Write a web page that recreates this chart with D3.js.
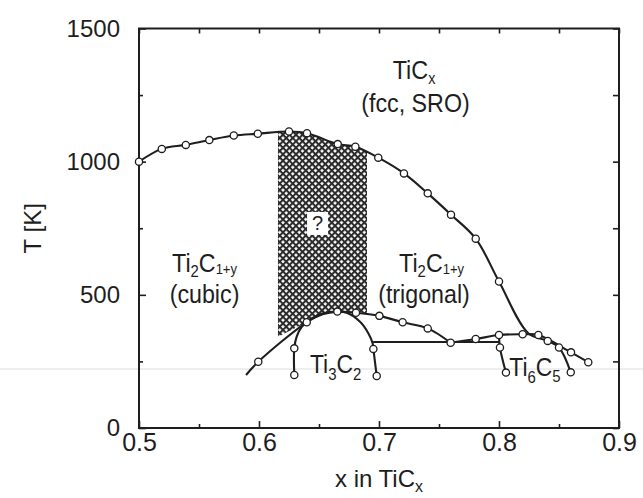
<!DOCTYPE html>
<html><head><meta charset="utf-8">
<script src="https://cdn.jsdelivr.net/npm/d3@7"></script>
<style>
html,body{margin:0;padding:0;background:#fff;}
svg{display:block;}
</style></head>
<body>
<svg id="chart" width="643" height="498"></svg>
<script>
// ---------- data ----------
const xTicks = [0.5, 0.6, 0.7, 0.8, 0.9];
const xMinorTicks = [0.55, 0.65, 0.75, 0.85];
const yTicks = [0, 500, 1000, 1500];
const yMinorTicks = [250, 750, 1250];

// TiCx order-disorder boundary (x, T[K])
const ticxCurve = [[0.5,1000],[0.519,1048],[0.539,1063],[0.5586,1081],[0.579,1098],[0.599,1105],[0.625,1113],[0.640,1107],[0.6656,1066],[0.6803,1056],[0.6994,1015],[0.7208,956],[0.7406,881],[0.760,801],[0.7806,711],[0.800,550],[0.8244,356],[0.8406,327],[0.850,302],[0.8598,209]];
const ticxMarkers = [[0.5,1000],[0.519,1048],[0.539,1063],[0.5586,1081],[0.579,1098],[0.599,1105],[0.625,1113],[0.640,1107],[0.6656,1066],[0.6803,1056],[0.6994,1015],[0.7208,956],[0.7406,881],[0.760,801],[0.7806,711],[0.800,550],[0.8406,327],[0.850,302],[0.8598,209]];

// cubic / trigonal Ti2C boundary
const cubicBoundary = [[0.5892,199],[0.5994,249],[0.6398,397],[0.6536,428],[0.6653,437]];
const cubicMarkers = [[0.5994,249],[0.6398,397]];

// trigonal lower boundary
const trigonalBoundary = [[0.6653,437],[0.6808,433],[0.7003,421],[0.7197,397],[0.7406,374],[0.7597,320]];
const trigonalMarkers = [[0.6653,437],[0.6808,433],[0.7003,421],[0.7197,397],[0.7406,374],[0.7597,320]];

// Ti3C2 dome
const ti3c2Dome = [[0.6294,199],[0.6294,299],[0.6314,343],[0.6356,380],[0.6439,412],[0.6536,431],[0.6653,437],[0.6731,433],[0.6842,399],[0.6911,356],[0.6947,318],[0.6953,297],[0.6981,195]];
const ti3c2Markers = [[0.6294,199],[0.6294,299],[0.6953,297],[0.6981,195]];

// horizontal line between Ti3C2 and Ti6C5
const tieLine = [[0.6951,323],[0.8005,323]];

// Ti6C5 region
const ti6c5Upper = [[0.7597,320],[0.7806,334],[0.800,349],[0.8197,352],[0.8328,349],[0.860,284],[0.8744,247]];
const ti6c5UpperMarkers = [[0.7806,334],[0.800,349],[0.8197,352],[0.8328,349],[0.860,284],[0.8744,247]];
const ti6c5Leg = [[0.800,349],[0.8008,302],[0.8058,208]];
const ti6c5LegMarkers = [[0.8008,302],[0.8058,208]];

// hatched (unknown) region: lower edge
const hatchLower = [[0.6158,343],[0.6398,397],[0.6536,428],[0.6653,440],[0.6808,436],[0.690,430]];
const hatchTopT = 1300;
const questionPos = [0.6488, 768];

// ---------- layout ----------
const W = 643, H = 498;
const mL = 139, mR = 619, mT = 28.5, mB = 428;
const x = d3.scaleLinear().domain([0.5, 0.9]).range([mL, mR]);
const y = d3.scaleLinear().domain([0, 1500]).range([mB, mT]);
const ink = "#1e1e1e";
const FONT = "'Liberation Sans', Arial, Helvetica, sans-serif";

const svg = d3.select("#chart");
svg.append("rect").attr("width", W).attr("height", H).attr("fill", "#fff");

// faint scan line
svg.append("line").attr("x1", 0).attr("x2", W).attr("y1", 369).attr("y2", 369)
  .attr("stroke", "#e8e8e8").attr("stroke-width", 1.5);

const defs = svg.append("defs");
const P = 4.6, SW = 2.0;
const pat = defs.append("pattern").attr("id", "xhatch")
  .attr("patternUnits", "userSpaceOnUse").attr("width", P).attr("height", P)
  .attr("patternTransform", "rotate(45)");
pat.append("rect").attr("width", P).attr("height", P).attr("fill", "#fff");
pat.append("rect").attr("x", 0).attr("y", 0).attr("width", P).attr("height", SW).attr("fill", "#2a2a2a");
pat.append("rect").attr("x", 0).attr("y", 0).attr("width", SW).attr("height", P).attr("fill", "#2a2a2a");

const line = d3.line().x(d => x(d[0])).y(d => y(d[1])).curve(d3.curveCatmullRom.alpha(0.5));
const straight = d3.line().x(d => x(d[0])).y(d => y(d[1]));

// clip: below TiCx curve
const firstPt = ticxCurve[0], lastPt = ticxCurve[ticxCurve.length - 1];
defs.append("clipPath").attr("id", "belowUpper").append("path")
  .attr("d", line(ticxCurve) + `L${x(0.9)},${y(lastPt[1])}L${x(0.9)},${y(0)}L${x(firstPt[0])},${y(0)}Z`);

// hatched region
const hatchPoly = [[hatchLower[0][0], hatchTopT], ...hatchLower, [hatchLower[hatchLower.length - 1][0], hatchTopT]];
svg.append("g").attr("clip-path", "url(#belowUpper)")
  .append("path").attr("d", straight(hatchPoly) + "Z").attr("fill", "url(#xhatch)");

// question mark box
const qx = x(questionPos[0]), qy = y(questionPos[1]);
svg.append("rect").attr("x", qx - 10.5).attr("y", qy - 11.5).attr("width", 21).attr("height", 23).attr("fill", "#fff");
svg.append("text").attr("x", qx).attr("y", qy + 7).attr("text-anchor", "middle")
  .attr("font-family", FONT).attr("font-size", 20).attr("fill", ink).text("?");

// frame
svg.append("rect").attr("x", mL).attr("y", mT).attr("width", mR - mL).attr("height", mB - mT)
  .attr("fill", "none").attr("stroke", ink).attr("stroke-width", 2);

// axes
function styleAxis(size) {
  return g => {
    g.select(".domain").remove();
    g.selectAll(".tick line").attr("stroke", ink).attr("stroke-width", 1.6);
    g.selectAll(".tick text").attr("font-family", FONT).attr("font-size", size).attr("fill", ink);
  };
}
svg.append("g").attr("transform", `translate(0,${mB})`)
  .call(d3.axisBottom(x).tickValues(xTicks).tickSize(-7).tickPadding(5).tickFormat(d3.format(".1f"))).call(styleAxis(25));
svg.append("g").attr("transform", `translate(0,${mB})`)
  .call(d3.axisBottom(x).tickValues(xMinorTicks).tickSize(-4).tickFormat("")).call(styleAxis(24));
svg.append("g").attr("transform", `translate(0,${mT})`)
  .call(d3.axisTop(x).tickValues(xTicks.concat(xMinorTicks)).tickSize(-5).tickFormat("")).call(styleAxis(24));
svg.append("g").attr("transform", `translate(${mL},0)`)
  .call(d3.axisLeft(y).tickValues(yTicks).tickSize(-7).tickPadding(19).tickFormat(d3.format("d"))).call(styleAxis(24));
svg.append("g").attr("transform", `translate(${mL},0)`)
  .call(d3.axisLeft(y).tickValues(yMinorTicks).tickSize(-4).tickFormat("")).call(styleAxis(24));
svg.append("g").attr("transform", `translate(${mR},0)`)
  .call(d3.axisRight(y).tickValues(yTicks.concat(yMinorTicks)).tickSize(-6).tickFormat("")).call(styleAxis(24));

// lines
const lines = svg.append("g").attr("fill", "none").attr("stroke", ink).attr("stroke-width", 2.1).attr("stroke-linejoin", "round");
[ticxCurve, cubicBoundary, trigonalBoundary, ti3c2Dome, ti6c5Upper, ti6c5Leg].forEach(arr => {
  lines.append("path").attr("d", line(arr));
});
lines.append("path").attr("d", straight(tieLine));

// markers
const allMarkers = [].concat(ticxMarkers, cubicMarkers, trigonalMarkers, ti3c2Markers, ti6c5UpperMarkers, ti6c5LegMarkers);
svg.append("g").selectAll("circle").data(allMarkers).join("circle")
  .attr("cx", d => x(d[0])).attr("cy", d => y(d[1])).attr("r", 3.6)
  .attr("fill", "#fff").attr("stroke", ink).attr("stroke-width", 1.3);

// labels (condensed)
function label(px, py, parts, anchor, size, sx) {
  const g = svg.append("g").attr("transform", `translate(${px},${py}) scale(${sx},1)`);
  const t = g.append("text").attr("x", 0).attr("y", 0).attr("text-anchor", anchor)
    .attr("font-family", FONT).attr("font-size", size).attr("fill", ink);
  let shift = 0;
  parts.forEach(p => {
    const s = t.append("tspan").text(p.t);
    const target = p.sub || 0;
    s.attr("dy", target - shift);
    shift = target;
    if (p.fs) s.attr("font-size", p.fs);
  });
  return t;
}
const LS = 25, SX = 0.93;
label(x(0.7292), y(1310), [{t:"TiC"},{t:"x", sub:5, fs:16}], "middle", 26, 0.9);
label(x(0.7304), y(1185), [{t:"(fcc, SRO)"}], "middle", LS, SX);
label(x(0.5546), y(586), [{t:"Ti"},{t:"2", sub:5, fs:16},{t:"C"},{t:"1+y", sub:2, fs:14}], "middle", LS, SX);
label(x(0.5546), y(469), [{t:"(cubic)"}], "middle", LS, SX);
label(x(0.7438), y(586), [{t:"Ti"},{t:"2", sub:5, fs:16},{t:"C"},{t:"1+y", sub:2, fs:14}], "middle", LS, SX);
label(x(0.7375), y(469), [{t:"(trigonal)"}], "middle", LS, SX);
label(x(0.6425), y(208), [{t:"Ti"},{t:"3", sub:7, fs:17},{t:"C"},{t:"2", sub:7, fs:17}], "start", 26, 0.88);
label(x(0.8086), y(195), [{t:"Ti"},{t:"6", sub:7, fs:17},{t:"C"},{t:"5", sub:6, fs:17}], "start", 26, 0.88);

// axis titles
const xt = svg.append("text").attr("x", (mL + mR) / 2).attr("y", 487).attr("text-anchor", "middle")
  .attr("font-family", FONT).attr("font-size", 24).attr("fill", ink);
xt.append("tspan").text("x in TiC");
xt.append("tspan").text("x").attr("font-size", 16).attr("dy", 5);

svg.append("text").attr("transform", `translate(41,${(mT + mB) / 2}) rotate(-90)`)
  .attr("text-anchor", "middle").attr("font-family", FONT).attr("font-size", 24).attr("fill", ink)
  .text("T [K]");
</script>
</body></html>
